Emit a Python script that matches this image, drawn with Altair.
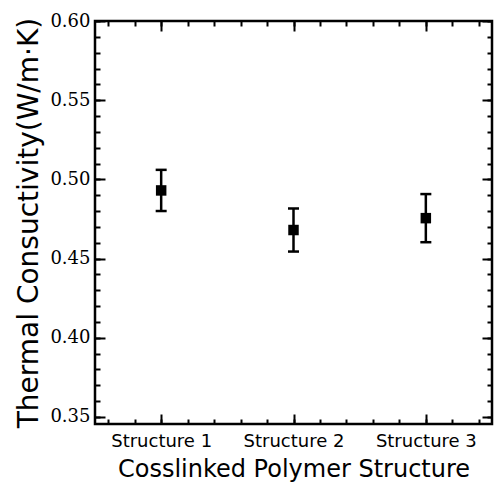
import altair as alt
import pandas as pd

# ---- data ----
structures = ["Structure 1", "Structure 2", "Structure 3"]
positions = [1, 2, 3]
conductivity = [0.493, 0.468, 0.4755]
errors = [0.013, 0.0136, 0.0152]

# axis ticks
x_major_ticks = [1, 2, 3]
x_minor_ticks = [0.6, 0.8, 1.0, 1.2, 1.4, 1.6, 1.8, 2.0, 2.2, 2.4, 2.6, 2.8, 3.0, 3.2, 3.4]
y_major_ticks = [0.35, 0.40, 0.45, 0.50, 0.55, 0.60]
y_minor_ticks = [0.35, 0.36, 0.37, 0.38, 0.39, 0.40, 0.41, 0.42, 0.43, 0.44, 0.45,
                 0.46, 0.47, 0.48, 0.49, 0.50, 0.51, 0.52, 0.53, 0.54, 0.55,
                 0.56, 0.57, 0.58, 0.59, 0.60]
x_domain = [0.5, 3.5]
y_domain = [0.3455, 0.60]

df = pd.DataFrame({"structure": structures, "pos": positions,
                   "k": conductivity, "err": errors})
df["lo"] = df["k"] - df["err"]
df["hi"] = df["k"] + df["err"]

names_js = "[" + ",".join(f"'{s}'" for s in structures) + "]"
x_label_expr = f"{names_js}[round(datum.value) - 1]"
y_label_expr = "format(datum.value, '.2f')"

W, H = 397, 403
MAJ, MIN = 10, 5

xs = alt.Scale(domain=x_domain, nice=False, zero=False)
ys = alt.Scale(domain=y_domain, nice=False, zero=False)

common = dict(grid=False, domain=False, tickColor="black", tickWidth=2,
              labelOverlap=False, labelFlush=False, labelBound=False)


def tick_axis(orient, values, size):
    # ticks drawn inward: axis pulled inside the frame by its tick length
    return alt.Axis(orient=orient, values=values, tickSize=size, offset=-size,
                    labels=False, title=None, **common)


base = alt.Chart(df)

points = base.mark_square(size=110, color="black", opacity=1).encode(
    x=alt.X("pos:Q", scale=xs, axis=alt.Axis(
        orient="bottom", values=x_major_ticks, tickSize=MAJ, offset=-MAJ,
        labelExpr=x_label_expr, labelFont="DejaVu Sans", labelFontSize=18,
        labelColor="black", labelPadding=8, labelBaseline="top",
        title="Cosslinked Polymer Structure", titleFont="DejaVu Sans",
        titleFontSize=24, titleFontWeight="normal", titleColor="black",
        titleBaseline="alphabetic", titleY=62, titleX=W / 2, **common)),
    y=alt.Y("k:Q", scale=ys, axis=alt.Axis(
        orient="left", values=y_major_ticks, tickSize=MAJ, offset=-MAJ,
        labelExpr=y_label_expr, labelFont="DejaVu Serif", labelFontSize=18,
        labelColor="black", labelPadding=5,
        title="Thermal Consuctivity(W/m·K)", titleFont="DejaVu Sans",
        titleFontSize=28, titleFontWeight="normal", titleColor="black",
        titleAngle=270, titleBaseline="alphabetic", titleX=-68, titleY=H / 2,
        **common)),
)

rules = base.mark_rule(color="black", strokeWidth=2.5).encode(
    x=alt.X("pos:Q", scale=xs, axis=tick_axis("top", x_major_ticks, MAJ)),
    y=alt.Y("lo:Q", scale=ys, axis=tick_axis("right", y_major_ticks, MAJ)),
    y2="hi:Q",
)

caps_lo = base.mark_tick(orient="horizontal", color="black", thickness=2.5,
                         size=11, opacity=1).encode(
    x=alt.X("pos:Q", scale=xs, axis=tick_axis("bottom", x_minor_ticks, MIN)),
    y=alt.Y("lo:Q", scale=ys, axis=tick_axis("left", y_minor_ticks, MIN)),
)
caps_hi = base.mark_tick(orient="horizontal", color="black", thickness=2.5,
                         size=11, opacity=1).encode(
    x=alt.X("pos:Q", scale=xs, axis=tick_axis("top", x_minor_ticks, MIN)),
    y=alt.Y("hi:Q", scale=ys, axis=tick_axis("right", y_minor_ticks, MIN)),
)

chart = alt.layer(rules, caps_lo, caps_hi, points).resolve_axis(
    x="independent", y="independent"
).properties(
    width=W, height=H,
    padding={"left": 87, "top": 13, "right": 2, "bottom": 58},
    autosize=alt.AutoSizeParams(type="none"),
    background="white",
).configure_view(stroke="black", strokeWidth=2.5)

chart.save("out.html", embed_options={"renderer": "svg", "actions": False})
